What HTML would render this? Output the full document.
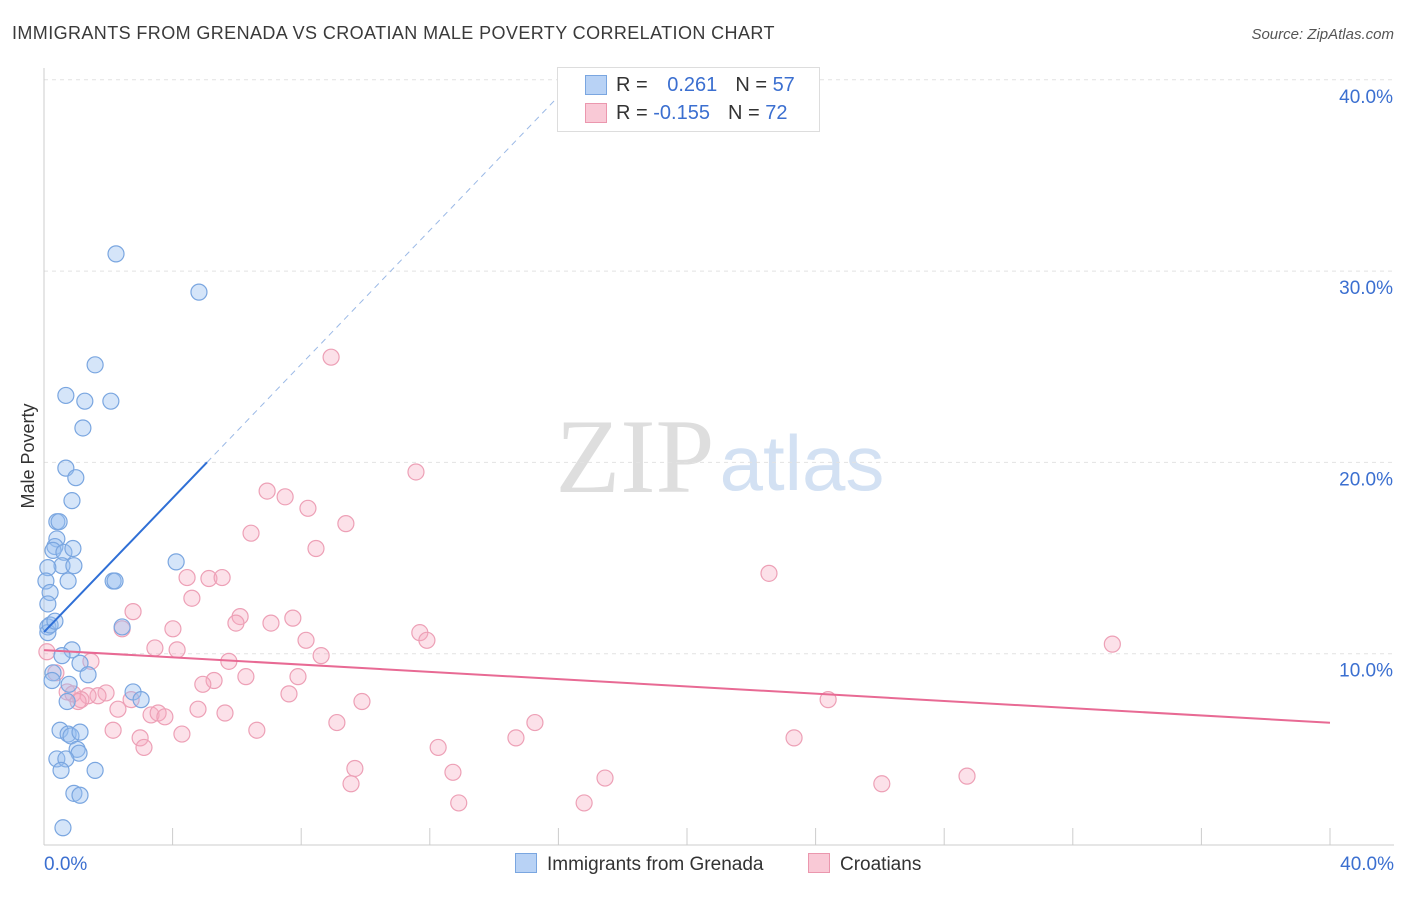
<!DOCTYPE html>
<html><head><meta charset="utf-8"><style>
body{margin:0;background:#fff;font-family:"Liberation Sans",sans-serif;}
#wrap{position:relative;width:1406px;height:892px;}
</style></head><body>
<div id="wrap">
<svg id="svg" width="1406" height="892" xmlns="http://www.w3.org/2000/svg">
<text x="12" y="39" font-size="18" letter-spacing="0.4" fill="#3a3a3a">IMMIGRANTS FROM GRENADA VS CROATIAN MALE POVERTY CORRELATION CHART</text>
<text x="1394" y="39" font-size="15" fill="#555" font-style="italic" text-anchor="end">Source: ZipAtlas.com</text>
<text x="635" y="492" font-size="106" fill="#dedede" font-family="Liberation Serif,serif" text-anchor="middle">ZIP</text>
<text x="802" y="490" font-size="78" fill="#d3e1f3" text-anchor="middle">atlas</text>
<text x="34" y="456" font-size="18" fill="#333" text-anchor="middle" transform="rotate(-90 34 456)">Male Poverty</text>
<g id="grid"></g><g id="marks"></g>
</svg>
<div style="position:absolute;left:557px;top:67px;width:261px;height:63px;border:1px solid #ddd;background:#fff;font-size:20px;">
 <div style="position:absolute;left:27px;top:7px;width:20px;height:18px;background:#b8d2f5;border:1px solid #7aa6e0"></div>
 <div style="position:absolute;left:58px;top:6px;color:#333">R = <span style="color:#3b6fd0;margin-left:14px">0.261</span><span style="color:#333;margin-left:18px">N = </span><span style="color:#3b6fd0">57</span></div>
 <div style="position:absolute;left:27px;top:35px;width:20px;height:18px;background:#f9c9d6;border:1px solid #eb97ae"></div>
 <div style="position:absolute;left:58px;top:34px;color:#333">R = <span style="color:#3b6fd0">-0.155</span><span style="color:#333;margin-left:18px">N = </span><span style="color:#3b6fd0">72</span></div>
</div>
<div style="position:absolute;left:515px;top:853px;font-size:19px;color:#333;"><span style="display:inline-block;width:20px;height:18px;background:#b8d2f5;border:1px solid #7aa6e0;vertical-align:-3px;margin-right:10px"></span>Immigrants from Grenada</div>
<div style="position:absolute;left:808px;top:853px;font-size:19px;color:#333;"><span style="display:inline-block;width:20px;height:18px;background:#f9c9d6;border:1px solid #eb97ae;vertical-align:-3px;margin-right:10px"></span>Croatians</div>
</div>
<script>
const yTicks=[10,20,30,40];
const yTickLabels=["10.0%","20.0%","30.0%","40.0%"];
const xTickLabels=["0.0%","40.0%"];
const blueX=[2.24,4.82,1.59,0.68,1.27,2.08,1.21,0.68,0.99,0.87,0.40,0.47,0.40,0.34,0.28,0.62,0.90,0.56,0.93,0.12,0.06,0.75,2.15,2.21,0.19,0.12,0.12,2.43,4.11,0.87,0.56,1.12,0.28,1.37,0.25,0.78,2.77,3.02,0.72,0.50,0.75,0.84,1.12,1.03,1.09,0.40,0.68,0.53,1.59,0.93,1.12,0.59,0.12,0.19,0.34];
const blueY=[30.9,28.9,25.1,23.5,23.2,23.2,21.8,19.7,19.2,18.0,16.9,16.9,16.0,15.6,15.4,15.3,15.5,14.6,14.6,14.5,13.8,13.8,13.8,13.8,13.2,12.6,11.4,11.4,14.8,10.2,9.9,9.5,9.0,8.9,8.6,8.4,8.0,7.6,7.5,6.0,5.8,5.7,5.9,5.0,4.8,4.5,4.5,3.9,3.9,2.7,2.6,0.9,11.1,11.5,11.7];
const pinkX=[8.93,11.57,6.94,7.50,8.21,9.39,6.44,8.46,4.45,5.13,5.54,22.55,4.60,6.10,2.77,5.97,7.06,7.74,4.01,2.43,11.69,11.91,8.15,33.23,3.45,4.14,8.62,5.75,1.46,0.37,0.09,6.28,7.90,5.29,4.94,0.72,0.90,1.93,1.68,1.37,1.15,7.62,9.89,24.39,4.79,5.63,2.30,3.33,3.55,3.76,2.71,1.06,9.11,15.27,2.15,2.99,14.68,4.29,6.62,23.33,3.11,12.26,9.67,12.72,9.55,17.45,28.71,26.06,12.90,16.80];
const pinkY=[25.5,19.5,18.5,18.2,17.6,16.8,16.3,15.5,13.98,13.93,13.98,14.2,12.9,11.94,12.2,11.6,11.6,11.86,11.3,11.3,11.1,10.7,10.7,10.5,10.3,10.2,9.9,9.6,9.6,9.0,10.1,8.8,8.8,8.6,8.4,8.0,7.9,7.95,7.8,7.8,7.6,7.9,7.5,7.6,7.1,6.9,7.1,6.8,6.9,6.7,7.6,7.5,6.4,6.4,6.0,5.6,5.6,5.8,6.0,5.6,5.1,5.1,4.0,3.8,3.2,3.5,3.6,3.2,2.2,2.2];
const blueTrend=[11.13,1.75];
const pinkTrend=[10.19,-0.095];
const NS="http://www.w3.org/2000/svg";
const X=v=>44+v*32.15, Y=v=>845-v*19.13;
const grid=document.getElementById('grid'), marks=document.getElementById('marks');
function mk(tag,attrs,parent){const e=document.createElementNS(NS,tag);for(const k in attrs)e.setAttribute(k,attrs[k]);parent.appendChild(e);return e;}
yTicks.forEach((t,i)=>{
 const l=mk('line',{x1:44,x2:1394,y1:Y(t),y2:Y(t),stroke:'#e2e2e2','stroke-dasharray':'4,4'},grid);
 
 
 const tx=mk('text',{x:1393,y:Y(t)+23,'font-size':19,fill:'#3b6fd0','text-anchor':'end'},grid);
 tx.textContent=yTickLabels[i];
 
 
});
const ax=mk('line',{x1:44,x2:1394,y1:845,y2:845,stroke:'#ccc'},grid);


const ay=mk('line',{x1:44,x2:44,y1:68,y2:845,stroke:'#ccc'},grid);


for(let i=0;i<=10;i++){const t=mk('line',{x1:X(i*4),x2:X(i*4),y1:828,y2:845,stroke:'#ccc'},grid);
 
 }
[[0,'start',44],[40,'end',1394]].forEach((a,i)=>{const t=mk('text',{x:a[2],y:870,'font-size':19,fill:'#3b6fd0','text-anchor':a[1]},grid);t.textContent=xTickLabels[i];
 
 });
pinkX.forEach((x,i)=>{const c=mk('circle',{cx:X(x),cy:Y(pinkY[i]),r:8,fill:'rgba(246,168,191,0.35)',stroke:'#eda0b6','stroke-width':1.2},marks);
 
 });
blueX.forEach((x,i)=>{const c=mk('circle',{cx:X(x),cy:Y(blueY[i]),r:8,fill:'rgba(150,190,240,0.4)',stroke:'#7aa6e0','stroke-width':1.2},marks);
 
 });
const bx1=5.07, bx2=(40-blueTrend[0])/blueTrend[1];
const b1=mk('line',{x1:X(0),y1:Y(blueTrend[0]),x2:X(bx1),y2:Y(blueTrend[0]+blueTrend[1]*bx1),stroke:'#2f6fd6','stroke-width':2},marks);


const b2=mk('line',{x1:X(bx1),y1:Y(blueTrend[0]+blueTrend[1]*bx1),x2:X(bx2),y2:Y(40),stroke:'#9bb9e6','stroke-width':1,'stroke-dasharray':'6,5'},marks);


const p1=mk('line',{x1:X(0),y1:Y(pinkTrend[0]),x2:X(40),y2:Y(pinkTrend[0]+pinkTrend[1]*40),stroke:'#e86a94','stroke-width':2},marks);


</script>
</body></html>
